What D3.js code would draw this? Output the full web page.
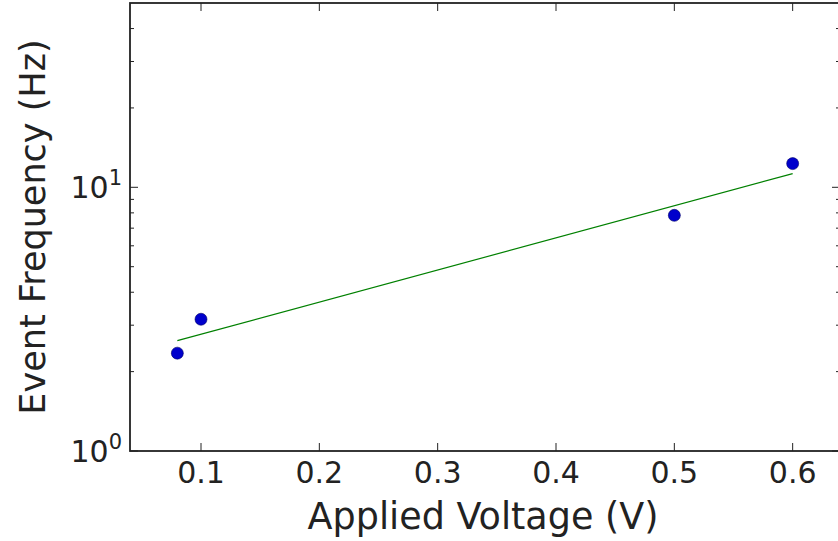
<!DOCTYPE html>
<html><head><meta charset="utf-8">
<script src="https://cdn.jsdelivr.net/npm/d3@7"></script>
<style>body{margin:0;background:#fff}svg{display:block}text{font-family:"DejaVu Sans",sans-serif;fill:#222}</style>
</head><body><svg id="c" width="838" height="541"></svg>
<script>
const voltage = [0.08, 0.1, 0.5, 0.6];
const frequency = [2.35, 3.16, 7.83, 12.3];
const fitVoltage = [0.08, 0.6];
const fitFrequency = [2.62, 11.27];
const xTicks = [0.1, 0.2, 0.3, 0.4, 0.5, 0.6];
const yMajor = [1, 10];
const yMinor = [2,3,4,5,6,7,8,9,20,30,40];

const svg = d3.select("#c");
const L = 130, R = 840, T = 3, B = 451;
const x = d3.scaleLinear().domain([0.04, 0.64]).range([L, R]);
const y = d3.scaleLog().domain([1, 50]).range([B, T]);

const g = svg.append("g");
xTicks.forEach(v => {
  g.append("line").attr("x1", x(v)).attr("x2", x(v)).attr("y1", B).attr("y2", B-8).attr("stroke","#222");
  g.append("line").attr("x1", x(v)).attr("x2", x(v)).attr("y1", T).attr("y2", T+8).attr("stroke","#222");
  g.append("text").attr("x", x(v)).attr("y", B+32).attr("text-anchor","middle").attr("font-size", 30).text(d3.format(".1f")(v));
});
yMajor.forEach(v => {
  g.append("line").attr("x1", L).attr("x2", L+8).attr("y1", y(v)).attr("y2", y(v)).attr("stroke","#222");
  g.append("line").attr("x1", R).attr("x2", R-8).attr("y1", y(v)).attr("y2", y(v)).attr("stroke","#222");
  const t = g.append("text").attr("x", L-8).attr("y", y(v)+11).attr("text-anchor","end").attr("font-size", 30);
  t.append("tspan").text("10");
  t.append("tspan").attr("dy", -13).attr("font-size", 21).text(Math.round(Math.log10(v)));
});
yMinor.forEach(v => {
  g.append("line").attr("x1", L).attr("x2", L+4).attr("y1", y(v)).attr("y2", y(v)).attr("stroke","#222");
  g.append("line").attr("x1", R).attr("x2", R-4).attr("y1", y(v)).attr("y2", y(v)).attr("stroke","#222");
});

const line = d3.line().x((d,i) => x(fitVoltage[i])).y((d,i) => y(fitFrequency[i]));
g.append("path").datum(fitVoltage).attr("d", line).attr("fill","none").attr("stroke","#008000").attr("stroke-width",1.2);

g.selectAll("circle.p").data(voltage).enter().append("circle")
  .attr("cx", (d) => x(d)).attr("cy", (d,i) => y(frequency[i])).attr("r", 6)
  .attr("fill","#0000cc").attr("stroke","#000066").attr("stroke-width",0.6);

g.append("rect").attr("x", L).attr("y", T).attr("width", R-L).attr("height", B-T)
  .attr("fill","none").attr("stroke","#222").attr("stroke-width",1.8);

svg.append("text").attr("x", 483).attr("y", 529).attr("text-anchor","middle").attr("font-size", 36.5).text("Applied Voltage (V)");
svg.append("text").attr("transform", `translate(45,227) rotate(-90)`).attr("text-anchor","middle").attr("font-size", 35).text("Event Frequency (Hz)");
</script></body></html>
